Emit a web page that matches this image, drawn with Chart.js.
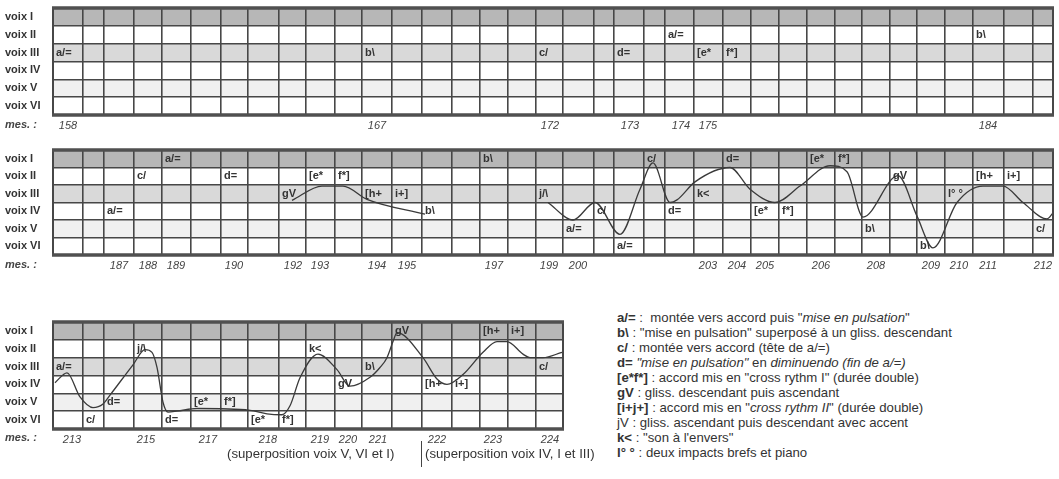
<!DOCTYPE html>
<html lang="fr">
<head>
<meta charset="utf-8">
<title>Voix</title>
<script src="https://cdn.jsdelivr.net/npm/chart.js@4.4.1/dist/chart.umd.min.js"></script>
<style>
body {margin: 0; background: #fff; font-family: "Liberation Sans", Arial, sans-serif; color: #333;}
#page {position: relative; width: 1059px; height: 479px; overflow: hidden;}
canvas {position: absolute; left: 0;}
.mes {position: absolute; left: 5px; font-size: 11px; font-style: italic; font-weight: bold; color: #444;}
.note {position: absolute; font-size: 13.2px; color: #333; white-space: nowrap;}
.trait {position: absolute; left: 421px; top: 441px; height: 26px; border-left: 1.5px solid #444;}
#legende {position: absolute; left: 617px; top: 310px; font-size: 13.2px; line-height: 15px; color: #333; white-space: nowrap;}
</style>
</head>
<body>
<div id="page">
	<canvas id="p1" width="1059" height="135" style="top:0px"></canvas>
	<canvas id="p2" width="1059" height="135" style="top:140px"></canvas>
	<canvas id="p3" width="580" height="137" style="top:312px"></canvas>

	<div class="mes" style="top:118px">mes. :</div>
	<div class="mes" style="top:258px">mes. :</div>
	<div class="mes" style="top:431px">mes. :</div>

	<div class="note" style="left:227px; top:446px">(superposition voix V, VI et I)</div>
	<div class="trait"></div>
	<div class="note" style="left:425px; top:446px">(superposition voix IV, I et III)</div>

	<div id="legende">
		<div><b>a/=</b> :&nbsp; montée vers accord puis "<i>mise en pulsation</i>"</div>
		<div><b>b\</b> : "mise en pulsation" superposé à un gliss. descendant</div>
		<div><b>c/</b> : montée vers accord (tête de a/=)</div>
		<div><b>d=</b> <i>"mise en pulsation"</i> en <i>diminuendo (fin de a/=)</i></div>
		<div><b>[e*f*]</b> : accord mis en "cross rythm I" (durée double)</div>
		<div><b>gV</b> : gliss. descendant puis ascendant</div>
		<div><b>[i+j+]</b> : accord mis en "<i>cross rythm II</i>" (durée double)</div>
		<div>jV : gliss. ascendant puis descendant avec accent</div>
		<div><b>k&lt;</b> : "son à l'envers"</div>
		<div><b>l° °</b> : deux impacts brefs et piano</div>
	</div>
</div>

<script>
// les six voix (lignes)
var voix = ['voix I', 'voix II', 'voix III', 'voix IV', 'voix V', 'voix VI'];

// barres de séparation des cases (unités de temps)
var barres = [0, 30, 51, 81, 109, 138, 168, 195, 226, 253, 282, 309, 339, 369, 399, 427, 455, 483, 510,
	541, 561, 591, 612, 641, 670, 698, 726, 754, 782, 809, 837, 864, 892, 920, 951, 980, 1000];

// numéros de mesure et leur place
var mes1 = ['158', '167', '172', '173', '174', '175', '184'];
var posMes1 = [15, 324, 497, 577, 628, 655, 935];
var mes2 = ['187', '188', '189', '190', '192', '193', '194', '195', '197', '199', '200',
	'203', '204', '205', '206', '208', '209', '210', '211', '212'];
var posMes2 = [66, 95, 123, 181, 240, 267, 324, 354, 441, 496, 525, 655, 684, 712, 768, 823, 878, 906, 935, 990];
var mes3 = ['213', '215', '217', '218', '219', '220', '221', '222', '223', '224'];
var posMes3 = [19, 93, 155, 215, 267, 295, 325, 384, 440, 497];

// signes : [case, voix, texte]
var signes1 = [[0, 2, 'a/='], [11, 2, 'b\\'], [17, 2, 'c/'], [20, 2, 'd='], [22, 1, 'a/='],
	[23, 2, '[e*'], [24, 2, 'f*]'], [33, 1, 'b\\']];
var signes2 = [[4, 0, 'a/='], [3, 1, 'c/'], [2, 3, 'a/='], [6, 1, 'd='], [8, 2, 'gV'], [9, 1, '[e*'],
	[10, 1, 'f*]'], [11, 2, '[h+'], [12, 2, 'i+]'], [13, 3, 'b\\'], [15, 0, 'b\\'], [17, 2, 'j/\\'],
	[18, 4, 'a/='], [19, 3, 'c/'], [20, 5, 'a/='], [21, 0, 'c/'], [22, 3, 'd='], [23, 2, 'k<'],
	[24, 0, 'd='], [25, 3, '[e*'], [26, 3, 'f*]'], [27, 0, '[e*'], [28, 0, 'f*]'], [29, 4, 'b\\'],
	[30, 1, 'gV'], [31, 5, 'b\\'], [32, 2, 'l° °'], [33, 1, '[h+'], [34, 1, 'i+]'], [35, 4, 'c/']];
var signes3 = [[0, 2, 'a/='], [1, 5, 'c/'], [2, 4, 'd='], [3, 1, 'j/\\'], [4, 5, 'd='], [5, 4, '[e*'],
	[6, 4, 'f*]'], [7, 5, '[e*'], [8, 5, 'f*]'], [9, 1, 'k<'], [10, 3, 'gV'], [11, 2, 'b\\'],
	[12, 0, 'gV'], [13, 3, '[h+'], [14, 3, 'i+]'], [15, 0, '[h+'], [16, 0, 'i+]'], [17, 2, 'c/']];

// trajets : [temps, hauteur en voix]
var trajet2a = [[239, 2.88], [269, 2.06], [290, 2.06], [314, 2.82], [372, 3.67]];
var trajet2b = [[495, 3.0], [520, 4.0], [542, 3.0], [567, 4.82], [587, 2.24], [600, 0.74], [617, 3.0],
	[624, 2.85], [642, 1.82], [677, 1.0], [697, 2.24], [722, 3.0], [747, 2.06], [777, 0.9], [794, 1.24],
	[810, 3.83], [845, 1.47], [864, 3.78], [880, 5.59], [904, 3.0], [930, 2.06], [950, 2.06], [970, 3.0],
	[994, 3.94], [1000, 3.6]];
var trajet3 = [[2, 3.4], [14, 2.85], [27, 4.2], [40, 4.8], [50, 4.6], [57, 4.1], [80, 2.4], [92, 1.55],
	[99, 1.7], [104, 2.55], [110, 4.5], [115, 5.05], [124, 5.0], [144, 4.85], [197, 4.95], [214, 5.15],
	[229, 5.2], [237, 4.7], [247, 3.13], [265, 1.8], [284, 2.67], [297, 3.6], [317, 3.1], [327, 2.55],
	[334, 2.0], [340, 1.1], [344, 0.6], [370, 2.0], [384, 3.2], [394, 3.5], [410, 2.95], [430, 1.7],
	[444, 1.1], [454, 1.1], [470, 1.8], [477, 2.0], [490, 2.0], [509, 1.7]];

var police = '"Liberation Sans", Arial, sans-serif';

function schema(id, fin, marge, posMes, mes, signes, trajets) {
	var barresP = barres.filter(function (b) { return b <= fin; });
	var ticksX = barresP.concat(posMes);

	var datasets = trajets.map(function (t) {
		return {
			data: t.map(function (p) { return {x: p[0], y: p[1]}; }),
			xAxisID: 'x',
			yAxisID: 'yv',
			borderColor: '#3a3a3a',
			borderWidth: 1.3,
			pointRadius: 0,
			cubicInterpolationMode: 'monotone',
			fill: false
		};
	});

	// fond des lignes grisées, cadre et signes
	var dessin = {
		id: 'dessin' + id,
		beforeDraw: function (chart) {
			var ctx = chart.ctx, a = chart.chartArea, y = chart.scales.yv;
			var fonds = [[0, '#b7b7b7'], [2, '#d9d9d9'], [4, '#f0f0f0']];
			ctx.save();
			fonds.forEach(function (f) {
				var y0 = y.getPixelForValue(f[0]), y1 = y.getPixelForValue(f[0] + 1);
				ctx.fillStyle = f[1];
				ctx.fillRect(a.left, y0, a.right - a.left, y1 - y0);
			});
			ctx.restore();
		},
		afterDatasetsDraw: function (chart) {
			var ctx = chart.ctx, a = chart.chartArea, x = chart.scales.x, y = chart.scales.yv;
			ctx.save();
			ctx.strokeStyle = '#474747';
			ctx.lineWidth = 2;
			ctx.strokeRect(a.left, a.top, a.right - a.left, a.bottom - a.top);
			ctx.strokeStyle = '#505050';
			ctx.lineWidth = 3.5;
			ctx.beginPath();
			ctx.moveTo(a.left - 1, a.top); ctx.lineTo(a.right + 1, a.top);
			ctx.moveTo(a.left - 1, a.bottom); ctx.lineTo(a.right + 1, a.bottom);
			ctx.stroke();

			ctx.fillStyle = '#333';
			ctx.font = 'bold 11px ' + police;
			ctx.textBaseline = 'middle';
			ctx.textAlign = 'left';
			signes.forEach(function (s) {
				var px = x.getPixelForValue(barresP[s[0]]) + 3;
				var py = y.getPixelForValue(s[1] + 0.5);
				ctx.fillText(s[2], px, py);
			});
			ctx.restore();
		}
	};

	return new Chart(document.getElementById(id), {
		type: 'line',
		data: {datasets: datasets},
		plugins: [dessin],
		options: {
			responsive: false,
			animation: false,
			layout: {padding: {left: 5, right: marge, top: id === 'p1' ? 8 : 10, bottom: 0}},
			plugins: {legend: {display: false}, tooltip: {enabled: false}},
			scales: {
				x: {
					type: 'linear',
					min: 0,
					max: fin,
					afterBuildTicks: function (s) {
						s.ticks = ticksX.map(function (v) { return {value: v}; });
					},
					afterFit: function (s) { s.height = 20; },
					border: {display: false},
					grid: {
						drawTicks: false,
						lineWidth: 1.6,
						color: function (c) {
							return (c.tick && barresP.indexOf(c.tick.value) >= 0) ? '#474747' : 'rgba(0,0,0,0)';
						}
					},
					ticks: {
						autoSkip: false,
						maxRotation: 0,
						minRotation: 0,
						padding: 4,
						color: '#444',
						font: {family: police, size: 11, style: 'italic'},
						callback: function (v) {
							var i = posMes.indexOf(v);
							return i < 0 ? '' : mes[i];
						}
					}
				},
				y: {
					type: 'category',
					labels: voix,
					offset: true,
					position: 'left',
					afterFit: function (s) { s.width = 48; },
					border: {display: false},
					grid: {offset: true, drawTicks: false, lineWidth: 1.6, color: '#474747'},
					ticks: {
						crossAlign: 'far',
						padding: 0,
						color: '#333',
						font: {family: police, size: 11, weight: 'bold'}
					}
				},
				yv: {type: 'linear', display: false, min: 0, max: 6, reverse: true}
			}
		}
	});
}

schema('p1', 1000, 6, posMes1, mes1, signes1, []);
schema('p2', 1000, 6, posMes2, mes2, signes2, [trajet2a, trajet2b]);
schema('p3', 510, 17, posMes3, mes3, signes3, [trajet3]);
</script>
</body>
</html>
